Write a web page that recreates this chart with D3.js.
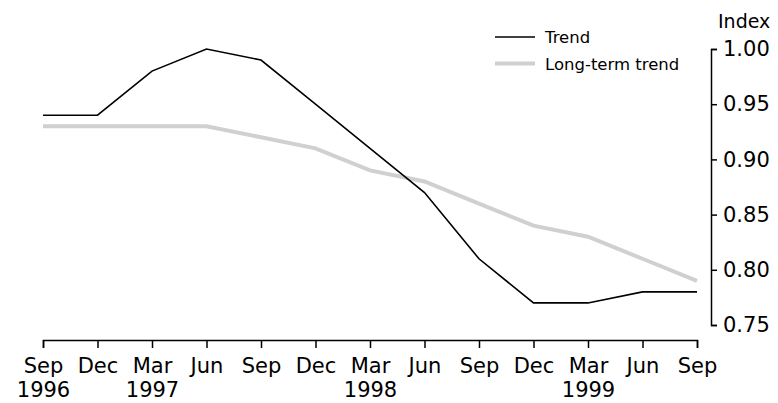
<!DOCTYPE html>
<html>
<head>
<meta charset="utf-8">
<script src="https://cdn.jsdelivr.net/npm/d3@7"></script>
<style>
  body { margin: 0; background: #fff; }
  text { font-family: "DejaVu Sans", sans-serif; fill: #000; }
</style>
</head>
<body>
<script>
let width = 778
let height = 403

// quarters, Sep 1996 .. Sep 1999
let quarters = ["Sep 1996","Dec 1996","Mar 1997","Jun 1997","Sep 1997","Dec 1997","Mar 1998",
    "Jun 1998","Sep 1998","Dec 1998","Mar 1999","Jun 1999","Sep 1999"]
let monthLabels = ["Sep","Dec","Mar","Jun","Sep","Dec","Mar","Jun","Sep","Dec","Mar","Jun","Sep"]
let yearLabels = ["1996","","1997","","","","1998","","","","1999","",""]

let trend = [0.94,0.94,0.98,1.00,0.99,0.95,0.91,0.87,0.81,0.77,0.77,0.78,0.78]
let longTerm = [0.93,0.93,0.93,0.93,0.92,0.91,0.89,0.88,0.86,0.84,0.83,0.81,0.79]

let yTicks = [0.75,0.80,0.85,0.90,0.95,1.00]

let svg = d3.select("body")
    .append("svg")
    .attr("width", width)
    .attr("height", height)

let x = d3.scalePoint()
    .domain(quarters)
    .range([43, 697])

let y = d3.scaleLinear()
    .domain([0.75, 1.00])
    .range([325, 49])

let line = d3.line()
    .x((d, i) => x(quarters[i]))
    .y(d => y(d))

// long-term trend (grey, thick)
svg.append("path")
    .datum(longTerm)
    .attr("fill", "none")
    .attr("stroke", "#d0d0d0")
    .attr("stroke-width", 4)
    .attr("d", line)

// trend (black)
svg.append("path")
    .datum(trend)
    .attr("fill", "none")
    .attr("stroke", "#000")
    .attr("stroke-width", 1.6)
    .attr("d", line)

// x axis
let xAxis = svg.append("g")
    .attr("transform", "translate(0,340)")
    .call(d3.axisBottom(x)
        .tickSize(8)
        .tickSizeOuter(8)
        .tickPadding(10)
        .tickFormat((d, i) => monthLabels[i]))

xAxis.selectAll(".tick")
    .append("text")
    .attr("y", 57)
    .attr("fill", "#000")
    .text((d, i) => yearLabels[i])

xAxis.selectAll("text")
    .attr("font-size", 21)
    .attr("font-family", "DejaVu Sans")

// y axis on the right
let yAxis = svg.append("g")
    .attr("transform", "translate(711,0)")
    .call(d3.axisRight(y)
        .tickValues(yTicks)
        .tickSize(6)
        .tickSizeOuter(6)
        .tickPadding(6)
        .tickFormat(d3.format(".2f")))

yAxis.selectAll("text")
    .attr("font-size", 21)
    .attr("font-family", "DejaVu Sans")

svg.selectAll(".domain, .tick line")
    .attr("stroke", "#000")
    .attr("stroke-width", 1.5)

svg.append("text")
    .attr("x", 718)
    .attr("y", 28)
    .attr("font-size", 19)
    .text("Index")

// legend
let legend = [
    {name: "Trend", color: "#000", w: 1.6},
    {name: "Long-term trend", color: "#d0d0d0", w: 4}
]

let lg = svg.append("g")
    .attr("transform", "translate(495,37)")

lg.selectAll("line")
    .data(legend)
    .enter()
    .append("line")
    .attr("x1", 0)
    .attr("x2", 40)
    .attr("y1", (d, i) => i * 26.5)
    .attr("y2", (d, i) => i * 26.5)
    .attr("stroke", d => d.color)
    .attr("stroke-width", d => d.w)

lg.selectAll("text")
    .data(legend)
    .enter()
    .append("text")
    .attr("x", 50)
    .attr("y", (d, i) => i * 26.5 + 6)
    .attr("font-size", 16.5)
    .text(d => d.name)
</script>
</body>
</html>
